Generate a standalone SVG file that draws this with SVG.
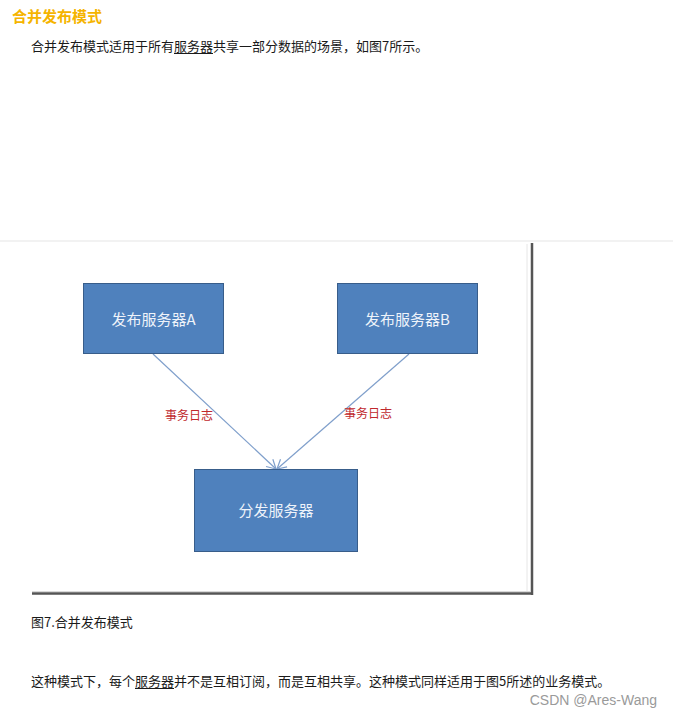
<svg xmlns="http://www.w3.org/2000/svg" width="673" height="717" viewBox="0 0 673 717">
<defs>
<style>
.cjk{font-family:"Noto Sans CJK SC","Noto Sans",sans-serif;}
.body{font-size:13px;fill:#1a1a1a;}
.box{fill:#4f81bd;stroke:#385d8a;stroke-width:1;}
.boxt{font-size:15px;fill:#eef3fa;text-anchor:middle;}
.lbl{font-size:12px;fill:#c0282d;}
.conn{stroke:#7f9fcb;stroke-width:1.2;fill:none;}
</style>
<marker id="arr" markerWidth="12" markerHeight="12" refX="10" refY="6" orient="auto" markerUnits="userSpaceOnUse">
<path d="M1,1 L10,6 L1,11" fill="none" stroke="#7f9fcb" stroke-width="1.2"/>
</marker>
</defs>
<rect width="673" height="717" fill="#ffffff"/>
<text class="cjk" x="12" y="22" font-size="15" font-weight="bold" fill="#f5b400">合并发布模式</text>
<text class="cjk body" x="31" y="51">合并发布模式适用于所有服务器共享一部分数据的场景，如图7所示。</text>
<line x1="174" y1="53.5" x2="213" y2="53.5" stroke="#1a1a1a" stroke-width="1"/>
<rect x="0" y="240" width="673" height="2" fill="#f2f2f2"/>
<line x1="527" y1="244" x2="527" y2="592" stroke="#e6e6e6" stroke-width="1"/>
<line x1="532" y1="243" x2="532" y2="595" stroke="#555555" stroke-width="2.5"/>
<line x1="32" y1="593.5" x2="533" y2="593.5" stroke="#555555" stroke-width="2.5"/>
<line x1="32" y1="591.5" x2="530" y2="591.5" stroke="#d9d9d9" stroke-width="1"/>
<g id="connectors">
<line class="conn" x1="153" y1="354" x2="276" y2="469" marker-end="url(#arr)"/>
<line class="conn" x1="409" y1="354" x2="277" y2="469" marker-end="url(#arr)"/>
<text class="cjk lbl" x="165" y="420">事务日志</text>
<text class="cjk lbl" x="344" y="418">事务日志</text>
</g>
<g id="nodeA">
<rect class="box" x="83.5" y="283.5" width="140" height="70"/>
<text class="cjk boxt" x="153.5" y="325">发布服务器A</text>
</g>
<g id="nodeB">
<rect class="box" x="337.5" y="283.5" width="140" height="70"/>
<text class="cjk boxt" x="407.5" y="325">发布服务器B</text>
</g>
<g id="nodeC">
<rect class="box" x="194.5" y="469.5" width="163" height="82"/>
<text class="cjk boxt" x="276" y="516">分发服务器</text>
</g>
<text class="cjk body" x="31" y="627">图7.合并发布模式</text>
<text class="cjk body" x="31" y="686">这种模式下，每个服务器并不是互相订阅，而是互相共享。这种模式同样适用于图5所述的业务模式。</text>
<line x1="135" y1="688.5" x2="174" y2="688.5" stroke="#1a1a1a" stroke-width="1"/>
<text x="657" y="705" font-family="'Liberation Sans',Arial,sans-serif" font-size="14" fill="#9a9a9a" text-anchor="end">CSDN @Ares-Wang</text>
</svg>
